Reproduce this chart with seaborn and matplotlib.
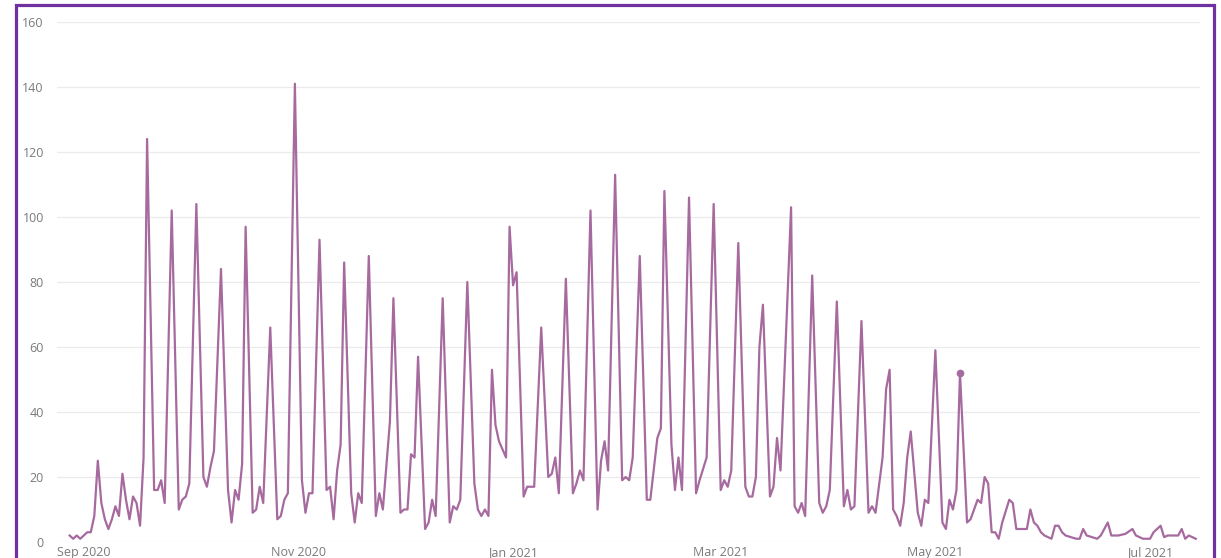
import pandas as pd
import matplotlib
matplotlib.use('Agg')
import matplotlib.pyplot as plt
import matplotlib.dates as mdates
import matplotlib.patches as patches
import seaborn as sns

# days counted from 1 Sep 2020, daily counts
day_offset = [
    -4, -3, -2, -1, 0, 1, 2, 3, 4, 5, 6, 7, 8, 9, 10, 11, 12, 13, 14, 15, 16, 17, 18,
    20, 21, 22, 23, 25, 27, 28, 29, 30, 32, 34, 35, 36, 37, 39, 41, 42, 43, 44, 45, 46,
    48, 49, 50, 51, 53, 55, 56, 57, 58, 60, 62, 63, 64, 65, 67, 69, 70, 71, 72, 73, 74,
    76, 77, 78, 79, 81, 83, 84, 85, 87, 88, 90, 91, 92, 93, 94, 95, 97, 98, 99, 100,
    102, 104, 105, 106, 107, 109, 111, 112, 113, 114, 115, 116, 117, 118, 120, 121, 122, 123,
    125, 126, 128, 130, 132, 133, 134, 135, 137, 139, 140, 141, 142, 144, 146, 147, 148, 149,
    151, 153, 154, 155, 156, 158, 160, 161, 163, 164, 165, 167, 168, 169, 170, 172, 174, 175,
    177, 179, 181, 182, 183, 184, 186, 188, 189, 190, 191, 192, 193, 195, 196, 197, 198,
    201, 202, 203, 204, 205, 207, 209, 210, 211, 212, 214, 216, 217, 218, 219, 221, 223,
    224, 225, 227, 228, 229, 230, 231, 232, 233, 234, 235, 237, 238, 239, 240, 242, 244,
    245, 246, 247, 248, 249, 251, 252, 254, 255, 256, 257, 258, 259, 260, 261, 263, 264,
    265, 268, 269, 270, 271, 272, 273, 275, 276, 277, 278, 279, 282, 283, 284, 285, 288,
    289, 290, 291, 292, 294, 296, 298, 299, 301, 303, 304, 306, 307, 308, 311, 312, 313,
    314, 316,
]
counts = [
    2, 1, 2, 1, 2, 3, 3, 8, 25, 12, 7, 4, 7, 11, 8, 21, 13, 7, 14, 12, 5, 26, 124,
    16, 16, 19, 12, 102, 10, 13, 14, 18, 104, 20, 17, 23, 28, 84, 16, 6, 16, 13, 24, 97,
    9, 10, 17, 12, 66, 7, 8, 13, 15, 141, 19, 9, 15, 15, 93, 16, 17, 7, 22, 30, 86,
    15, 6, 15, 12, 88, 8, 15, 10, 37, 75, 9, 10, 10, 27, 26, 57, 4, 6, 13, 8,
    75, 6, 11, 10, 13, 80, 18, 10, 8, 10, 8, 53, 36, 31, 26, 97, 79, 83,
    14, 17, 17, 66, 20, 21, 26, 15, 81, 15, 18, 22, 19, 102, 10, 25, 31, 22,
    113, 19, 20, 19, 26, 88, 13, 13, 32, 35, 108, 30, 16, 26, 16, 106, 15, 19,
    26, 104, 16, 19, 17, 22, 92, 17, 14, 14, 20, 60, 73, 14, 17, 32, 22,
    103, 11, 9, 12, 8, 82, 12, 9, 11, 16, 74, 11, 16, 10, 11, 68, 9,
    11, 9, 26, 47, 53, 10, 8, 5, 12, 26, 34, 9, 5, 13, 12, 59, 6,
    4, 13, 10, 16, 52, 6, 7, 13, 12, 20, 18, 3, 3, 1, 6, 13, 12,
    4, 4, 10, 6, 5, 3, 2, 1, 5, 5, 3, 2, 1, 1, 4, 2, 1,
    2, 4, 6, 2, 2, 2.5, 4, 2, 1, 1, 3, 5, 1.5, 2, 2, 4, 1,
    2, 1,
]
highlight_day = 249
y_ticks = [0, 20, 40, 60, 80, 100, 120, 140, 160]

start = pd.Timestamp('2020-09-01')
df = pd.DataFrame({
    'date': start + pd.to_timedelta(day_offset, unit='D'),
    'count': counts,
})

line_color = '#a66a9e'
text_color = '#7a7a7a'

fig = plt.figure(figsize=(12.21, 5.58), dpi=100)
W, H = 1221, 558
ax = fig.add_axes([57 / W, (H - 542) / H, (1200 - 57) / W, (542 - 22) / H])

sns.lineplot(data=df, x='date', y='count', color=line_color, linewidth=1.6, ax=ax)

hl = df[df['date'] == start + pd.Timedelta(days=highlight_day)]
ax.plot(hl['date'], hl['count'], 'o', color=line_color, markersize=4.5)

ax.set_ylim(0, 160)
ax.set_xlim(start - pd.Timedelta(days=7.6), start + pd.Timedelta(days=317.2))
ax.set_yticks(y_ticks)
ax.xaxis.set_major_locator(mdates.MonthLocator(bymonth=[1, 3, 5, 7, 9, 11]))
ax.xaxis.set_major_formatter(mdates.DateFormatter('%b %Y'))

ax.grid(axis='y', color='#ebebeb', linewidth=0.9)
ax.grid(axis='x', visible=False)
ax.set_axisbelow(True)
for s in ax.spines.values():
    s.set_visible(False)
ax.tick_params(axis='y', length=0, pad=9.5, labelsize=9, labelcolor=text_color)
ax.tick_params(axis='x', length=0, pad=3, labelsize=9, labelcolor=text_color)
for lbl in ax.get_xticklabels() + ax.get_yticklabels():
    lbl.set_family('Open Sans')
ax.set_xlabel('')
ax.set_ylabel('')

# purple frame around the visual
frame = patches.Rectangle((16 / W, -0.05), (1214 - 16) / W, 1.05 - 5 / H,
                          transform=fig.transFigure, fill=False,
                          edgecolor='#7030a0', linewidth=2.3, clip_on=False)
fig.patches.append(frame)

plt.savefig('out.png', dpi=100)
